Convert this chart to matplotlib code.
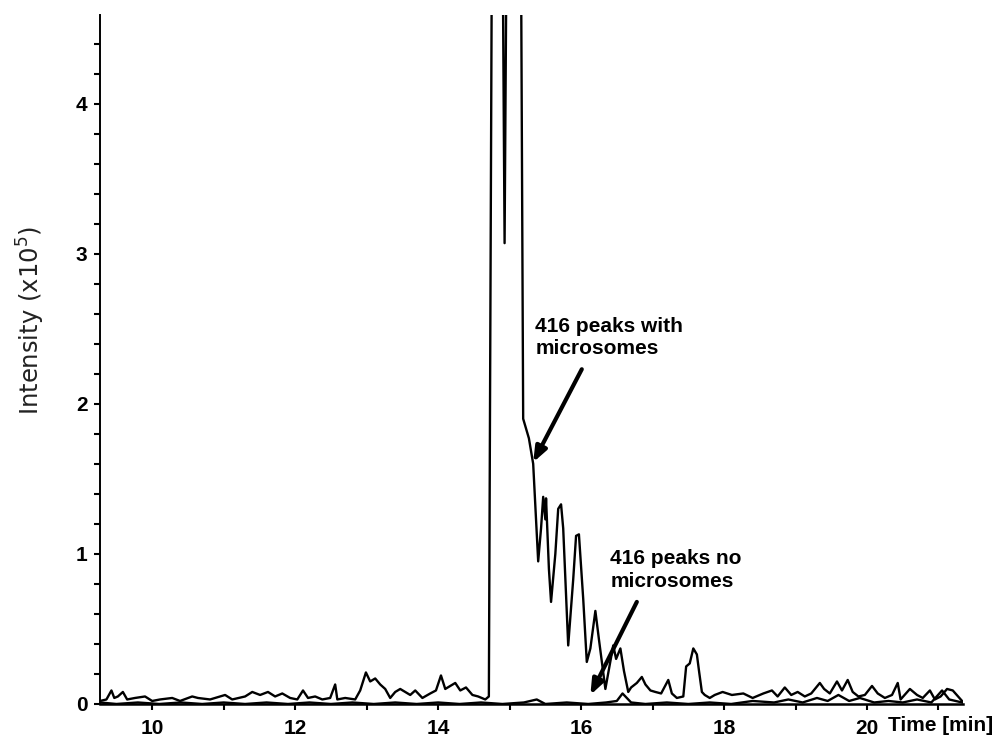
import matplotlib
matplotlib.use("Agg")
import matplotlib.pyplot as plt
import matplotlib.ticker as ticker

# Trace with microsomes (time in min, intensity in 1e5 counts); main peak runs off scale
time_with = [9.27, 9.36, 9.43, 9.47, 9.52, 9.59, 9.65, 9.76, 9.90, 10.00, 10.11, 10.28,
             10.39, 10.56, 10.64, 10.81, 11.02, 11.12, 11.30, 11.40, 11.51, 11.62, 11.72,
             11.82, 11.93, 12.03, 12.11, 12.18, 12.28, 12.38, 12.49, 12.56, 12.59, 12.70,
             12.84, 12.91, 12.99, 13.05, 13.12, 13.19, 13.26, 13.33, 13.40, 13.47, 13.54,
             13.61, 13.68, 13.78, 13.89, 13.97, 14.04, 14.10, 14.17, 14.24, 14.31, 14.39,
             14.48, 14.56, 14.66, 14.71, 14.76, 14.89, 14.93, 14.97, 15.15, 15.19, 15.27,
             15.33, 15.40, 15.44, 15.47, 15.50, 15.51, 15.55, 15.58, 15.64, 15.68, 15.72,
             15.75, 15.82, 15.89, 15.93, 15.97, 16.03, 16.08, 16.13, 16.20, 16.25, 16.34,
             16.39, 16.45, 16.49, 16.55, 16.60, 16.66, 16.70, 16.78, 16.85, 16.90, 16.97,
             17.04, 17.12, 17.22, 17.27, 17.34, 17.43, 17.47, 17.52, 17.57, 17.62, 17.65,
             17.69, 17.73, 17.80, 17.87, 17.98, 18.11, 18.27, 18.40, 18.55, 18.67, 18.75,
             18.85, 18.94, 19.03, 19.13, 19.22, 19.34, 19.40, 19.48, 19.58, 19.65, 19.73,
             19.80, 19.88, 19.97, 20.07, 20.15, 20.25, 20.35, 20.43, 20.47, 20.60, 20.70,
             20.78, 20.88, 20.95, 21.03, 21.12, 21.20, 21.33]
int_with = [0.02, 0.03, 0.09, 0.04, 0.05, 0.08, 0.03, 0.04, 0.05, 0.02, 0.03, 0.04,
            0.02, 0.05, 0.04, 0.03, 0.06, 0.03, 0.05, 0.08, 0.06, 0.08, 0.05,
            0.07, 0.04, 0.03, 0.09, 0.04, 0.05, 0.03, 0.04, 0.13, 0.03, 0.04,
            0.03, 0.09, 0.21, 0.15, 0.17, 0.13, 0.10, 0.04, 0.08, 0.10, 0.08,
            0.06, 0.09, 0.04, 0.07, 0.09, 0.19, 0.10, 0.12, 0.14, 0.09, 0.11,
            0.06, 0.05, 0.03, 0.05, 6.00, 6.00, 3.07, 6.00, 6.00, 1.90, 1.77,
            1.60, 0.95, 1.17, 1.38, 1.23, 1.37, 0.90, 0.68, 1.00, 1.30, 1.33,
            1.17, 0.39, 0.83, 1.12, 1.13, 0.70, 0.28, 0.37, 0.62, 0.43, 0.10,
            0.23, 0.39, 0.30, 0.37, 0.22, 0.08, 0.11, 0.14, 0.18, 0.13, 0.09,
            0.08, 0.07, 0.16, 0.07, 0.04, 0.05, 0.25, 0.27, 0.37, 0.33, 0.22,
            0.08, 0.06, 0.04, 0.06, 0.08, 0.06, 0.07, 0.04, 0.07, 0.09, 0.05,
            0.11, 0.06, 0.08, 0.05, 0.07, 0.14, 0.10, 0.07, 0.15, 0.09, 0.16,
            0.08, 0.05, 0.06, 0.12, 0.07, 0.04, 0.06, 0.14, 0.03, 0.10, 0.06,
            0.04, 0.09, 0.03, 0.05, 0.10, 0.09, 0.02]

# Trace without microsomes (nearly flat)
time_no = [9.27, 9.50, 9.80, 10.10, 10.40, 10.70, 11.00, 11.30, 11.60, 11.90, 12.20,
           12.50, 12.80, 13.10, 13.40, 13.70, 14.00, 14.30, 14.60, 14.90, 15.20, 15.38,
           15.50, 15.80, 16.10, 16.35, 16.50, 16.58, 16.70, 16.90, 17.20, 17.50, 17.80,
           18.10, 18.40, 18.70, 18.90, 19.10, 19.30, 19.45, 19.60, 19.75, 19.90, 20.10,
           20.30, 20.50, 20.70, 20.90, 21.05, 21.15, 21.33]
int_no = [0.01, 0.00, 0.01, 0.00, 0.01, 0.00, 0.01, 0.00, 0.01, 0.00, 0.01,
          0.00, 0.01, 0.00, 0.01, 0.00, 0.01, 0.00, 0.01, 0.00, 0.01, 0.03,
          0.00, 0.01, 0.00, 0.01, 0.02, 0.07, 0.01, 0.00, 0.01, 0.00, 0.01,
          0.00, 0.02, 0.01, 0.03, 0.01, 0.04, 0.02, 0.06, 0.02, 0.04, 0.01,
          0.02, 0.01, 0.03, 0.01, 0.09, 0.03, 0.01]

x_major = [10, 12, 14, 16, 18, 20]
x_labels = ["10", "12", "14", "16", "18", "20"]
y_major = [0, 1, 2, 3, 4]

label_with = "416 peaks with\nmicrosomes"
label_no = "416 peaks no\nmicrosomes"

plt.rcParams["font.family"] = ["Liberation Sans", "DejaVu Sans"]

fig = plt.figure(figsize=(9.94, 7.39), dpi=100)
ax = fig.add_axes([0.1006, 0.0474, 0.868, 0.9323])

ax.plot(time_no, int_no, color="black", lw=1.7)
ax.plot(time_with, int_with, color="black", lw=1.7)

ax.set_xlim(9.27, 21.34)
ax.set_ylim(0, 4.59)

ax.spines["top"].set_visible(False)
ax.spines["right"].set_visible(False)
ax.spines["left"].set_linewidth(1.4)
ax.spines["bottom"].set_linewidth(1.8)

ax.set_xticks(x_major)
ax.set_xticklabels(x_labels)
ax.xaxis.set_minor_locator(ticker.MultipleLocator(1))
ax.set_yticks(y_major)
ax.yaxis.set_minor_locator(ticker.MultipleLocator(0.2))
ax.tick_params(which="both", direction="out", width=1.5, length=4)
ax.tick_params(axis="y", which="major", pad=5)
ax.tick_params(axis="x", which="major", pad=7)
for lab in ax.get_xticklabels() + ax.get_yticklabels():
    lab.set_fontsize(15)
    lab.set_fontweight("bold")

ax.text(20.30, -0.08, "Time [min]", fontsize=15, fontweight="bold",
        ha="left", va="top", clip_on=False)

fig.text(0.031, 0.566, "Intensity (x10$^5$)", rotation=90, fontsize=17.5,
         family="DejaVu Sans", color="#222222", ha="center", va="center")

arrow = dict(arrowstyle="-|>,head_length=0.9,head_width=0.35", color="black",
             lw=3, shrinkA=0, shrinkB=0)
ax.annotate("", xy=(15.33, 1.61), xytext=(16.01, 2.23), arrowprops=arrow)
ax.annotate("", xy=(16.13, 0.06), xytext=(16.78, 0.68), arrowprops=arrow)

ax.text(15.36, 2.58, label_with, fontsize=15, fontweight="bold",
        ha="left", va="top", linespacing=1.25)
ax.text(16.41, 1.03, label_no, fontsize=15, fontweight="bold",
        ha="left", va="top", linespacing=1.25)

fig.savefig("out.png", dpi=100)
